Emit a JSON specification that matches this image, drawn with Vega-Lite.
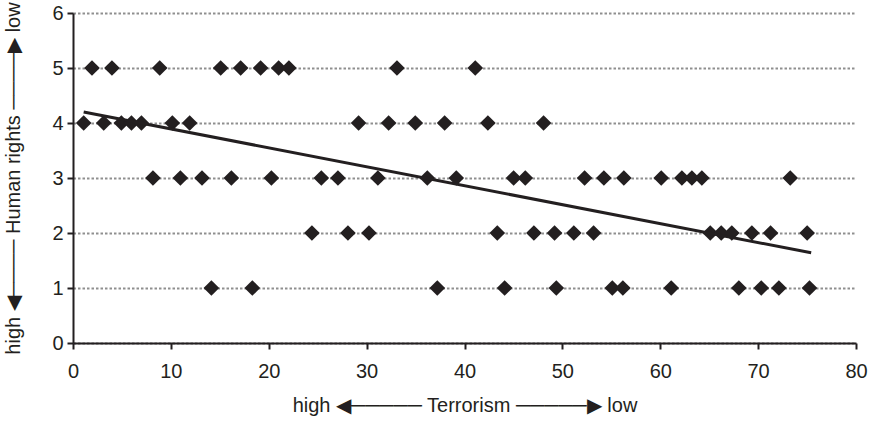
{
  "$schema": "https://vega.github.io/schema/vega-lite/v6.json",
  "width": 783,
  "height": 330,
  "autosize": {"type": "none"},
  "padding": {"left": 73, "top": 13, "right": 20, "bottom": 78},
  "background": "white",
  "config": {
    "view": {"stroke": null},
    "font": "Liberation Sans",
    "axis": {
      "labelFont": "Liberation Sans",
      "titleFont": "Liberation Sans",
      "labelFontSize": 20,
      "titleFontSize": 20,
      "titleFontWeight": "normal",
      "labelColor": "#231f20",
      "titleColor": "#231f20",
      "domainColor": "#231f20",
      "domainWidth": 2,
      "tickColor": "#231f20",
      "tickWidth": 2,
      "tickSize": 6,
      "labelFlush": false,
      "labelOverlap": false
    }
  },
  "datasets": {
    "points": [
      {"terrorism": 1.94, "rights": 5}, {"terrorism": 3.98, "rights": 5}, {"terrorism": 8.86, "rights": 5},
      {"terrorism": 15.09, "rights": 5}, {"terrorism": 17.13, "rights": 5}, {"terrorism": 19.17, "rights": 5},
      {"terrorism": 21.01, "rights": 5}, {"terrorism": 22.06, "rights": 5}, {"terrorism": 33.1, "rights": 5},
      {"terrorism": 41.1, "rights": 5},
      {"terrorism": 1.09, "rights": 4}, {"terrorism": 3.14, "rights": 4}, {"terrorism": 4.94, "rights": 4},
      {"terrorism": 5.97, "rights": 4}, {"terrorism": 6.99, "rights": 4}, {"terrorism": 10.15, "rights": 4},
      {"terrorism": 11.92, "rights": 4}, {"terrorism": 29.18, "rights": 4}, {"terrorism": 32.25, "rights": 4},
      {"terrorism": 34.97, "rights": 4}, {"terrorism": 37.97, "rights": 4}, {"terrorism": 42.39, "rights": 4},
      {"terrorism": 48.08, "rights": 4},
      {"terrorism": 8.17, "rights": 3}, {"terrorism": 10.97, "rights": 3}, {"terrorism": 13.18, "rights": 3},
      {"terrorism": 16.18, "rights": 3}, {"terrorism": 20.27, "rights": 3}, {"terrorism": 25.37, "rights": 3},
      {"terrorism": 27.07, "rights": 3}, {"terrorism": 31.15, "rights": 3}, {"terrorism": 36.2, "rights": 3},
      {"terrorism": 39.16, "rights": 3}, {"terrorism": 45.02, "rights": 3}, {"terrorism": 46.21, "rights": 3},
      {"terrorism": 52.27, "rights": 3}, {"terrorism": 54.24, "rights": 3}, {"terrorism": 56.28, "rights": 3},
      {"terrorism": 60.1, "rights": 3}, {"terrorism": 62.21, "rights": 3}, {"terrorism": 63.23, "rights": 3},
      {"terrorism": 64.25, "rights": 3}, {"terrorism": 73.28, "rights": 3},
      {"terrorism": 24.41, "rights": 2}, {"terrorism": 28.09, "rights": 2}, {"terrorism": 30.24, "rights": 2},
      {"terrorism": 43.35, "rights": 2}, {"terrorism": 47.09, "rights": 2}, {"terrorism": 49.2, "rights": 2},
      {"terrorism": 51.17, "rights": 2}, {"terrorism": 53.19, "rights": 2}, {"terrorism": 65.11, "rights": 2},
      {"terrorism": 66.23, "rights": 2}, {"terrorism": 67.31, "rights": 2}, {"terrorism": 69.36, "rights": 2},
      {"terrorism": 71.27, "rights": 2}, {"terrorism": 75.01, "rights": 2},
      {"terrorism": 14.14, "rights": 1}, {"terrorism": 18.32, "rights": 1}, {"terrorism": 37.22, "rights": 1},
      {"terrorism": 44.1, "rights": 1}, {"terrorism": 49.38, "rights": 1}, {"terrorism": 55.1, "rights": 1},
      {"terrorism": 56.18, "rights": 1}, {"terrorism": 61.12, "rights": 1}, {"terrorism": 68.03, "rights": 1},
      {"terrorism": 70.32, "rights": 1}, {"terrorism": 72.12, "rights": 1}, {"terrorism": 75.25, "rights": 1}
    ],
    "trend": [
      {"terrorism": 1.09, "rights": 4.2},
      {"terrorism": 75.42, "rights": 1.64}
    ]
  },
  "layer": [
    {
      "data": {"name": "points"},
      "mark": {"type": "point", "shape": "diamond", "filled": true, "size": 245, "color": "#231f20", "opacity": 1},
      "encoding": {
        "x": {
          "field": "terrorism", "type": "quantitative",
          "scale": {"domain": [0, 80], "nice": false, "zero": true},
          "axis": {
            "values": [0, 10, 20, 30, 40, 50, 60, 70, 80],
            "format": "d",
            "grid": false,
            "labelPadding": 12,
            "titlePadding": 14,
            "title": "high ◀───── Terrorism ─────▶ low"
          }
        },
        "y": {
          "field": "rights", "type": "quantitative",
          "scale": {"domain": [0, 6], "nice": false},
          "axis": {
            "values": [0, 1, 2, 3, 4, 5, 6],
            "format": "d",
            "grid": true,
            "gridColor": "#8f8f8f",
            "gridWidth": 2,
            "gridDash": [2.5, 2],
            "labelPadding": 4,
            "titlePadding": 28,
            "title": "high ◀──── Human rights ────▶ low"
          }
        }
      }
    },
    {
      "data": {"name": "trend"},
      "mark": {"type": "line", "color": "#231f20", "strokeWidth": 3},
      "encoding": {
        "x": {"field": "terrorism", "type": "quantitative"},
        "y": {"field": "rights", "type": "quantitative"}
      }
    }
  ]
}
